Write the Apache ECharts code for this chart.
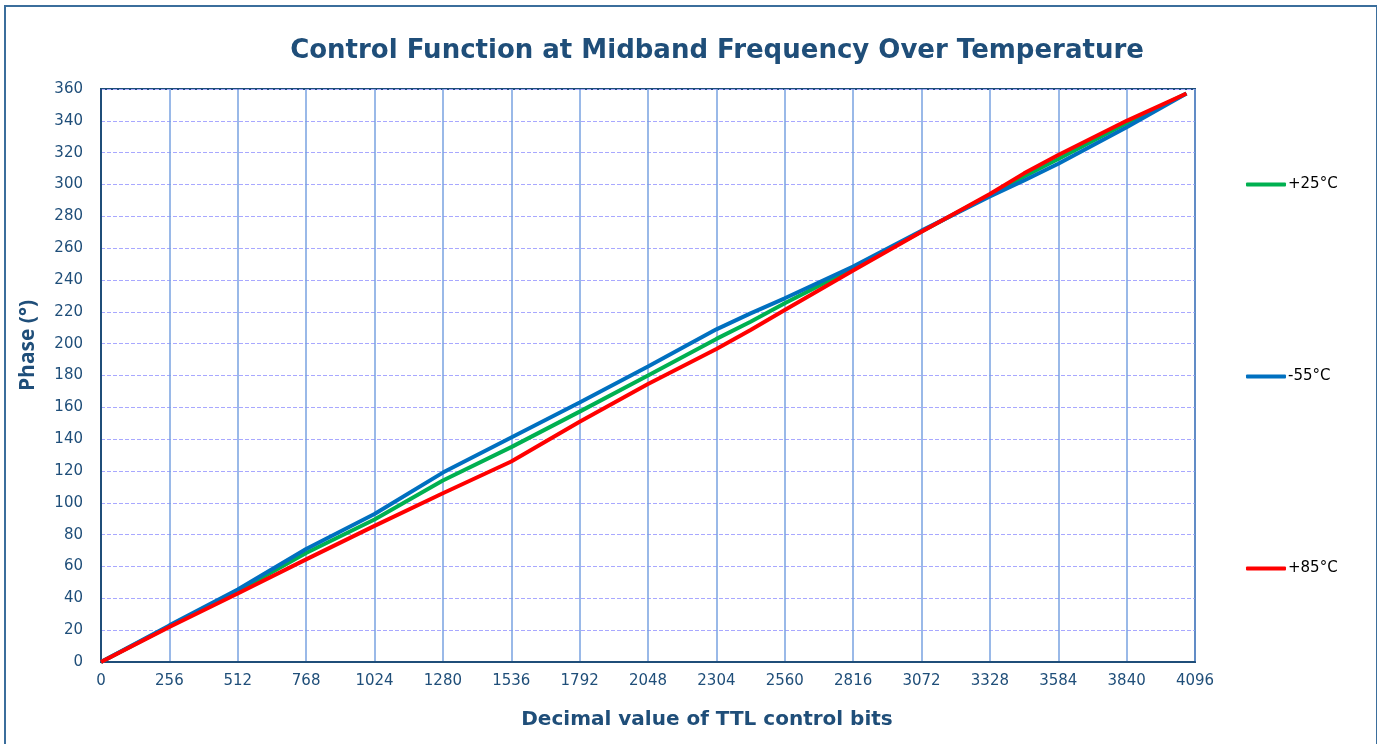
<!DOCTYPE html>
<html>
<head>
<meta charset="utf-8">
<script src="https://cdn.jsdelivr.net/npm/echarts@6/dist/echarts.min.js"></script>
<style>
  html, body { margin: 0; padding: 0; background: #fff; overflow: hidden; }
  #chart { width: 1377px; height: 744px; }
  .frame {
    position: absolute; left: 4px; top: 5px;
    width: 1370px; height: 800px;
    border: 2px solid #3b6e9c; pointer-events: none;
  }
</style>
</head>
<body>
<div id="chart"></div>
<div class="frame"></div>
<script>
  // decimal value of the TTL control bits
  var bits = [0, 256, 512, 768, 1024, 1280, 1536, 1792, 2048, 2304, 2432, 2560, 2816, 3072, 3328, 3456, 3584, 3840, 4064];
  // phase (deg)
  var phase25 = [0, 22.5, 44.5, 68.5, 89.5, 114, 135, 157.3, 180, 203, 213.8, 225.4, 247.3, 270.5, 293.4, 305, 316, 338.5, 357.2];
  var phaseM55 = [0, 23, 45.5, 71, 93, 119, 141, 163, 185.6, 209, 219, 228.5, 248.4, 271, 292.5, 302.5, 313, 336, 357.2];
  var phase85 = [0, 22, 43, 64.5, 85.5, 106, 126, 151, 174.7, 196.7, 208.6, 221.2, 246, 270.3, 294, 307, 318.5, 340, 357.2];
  var names = ['+25°C', '-55°C', '+85°C'];
  var colors = ['#00b050', '#0070c0', '#ff0000'];

  function pairs(ys) {
    var out = [];
    for (var i = 0; i < bits.length; i++) out.push([bits[i], ys[i]]);
    return out;
  }

  var dark = '#1f4e79';
  var chart = echarts.init(document.getElementById('chart'));
  var option = {
    animation: false,
    title: [{
      text: 'Control Function at Midband Frequency Over Temperature',
      left: 712, top: 33, textAlign: 'center',
      textStyle: { fontFamily: 'DejaVu Sans', fontWeight: 'bold', fontSize: 26, color: dark }
    }, {
      text: 'Decimal value of TTL control bits',
      left: 702, top: 705, textAlign: 'center',
      textStyle: { fontFamily: 'DejaVu Sans', fontWeight: 'bold', fontSize: 20, color: dark }
    }],
    legend: {
      orient: 'vertical',
      left: 1241, top: 172,
      itemGap: 177,
      itemWidth: 40, itemHeight: 4,
      icon: 'roundRect',
      data: names,
      textStyle: { fontFamily: 'DejaVu Sans', fontSize: 15, color: '#000', padding: [0, 0, 0, -3] }
    },
    grid: {
      left: 101, right: 182, top: 89, bottom: 82,
      show: true, borderColor: dark, borderWidth: 2
    },
    xAxis: {
      type: 'value', min: 0, max: 4096, interval: 256,
      axisLine: { lineStyle: { color: dark, width: 2 } },
      axisTick: { show: false },
      axisLabel: {
        fontFamily: 'DejaVu Sans', fontSize: 15, color: dark, margin: 12,
        formatter: function (v) { return String(v); }
      },
      splitLine: { show: true, lineStyle: { color: '#78a2e0', width: 1.5 } }
    },
    yAxis: {
      type: 'value', min: 0, max: 360, interval: 20,
      name: 'Phase (°)', nameLocation: 'middle', nameGap: 62, nameRotate: 90,
      nameTextStyle: { fontFamily: 'Liberation Sans Narrow, Open Sans', fontWeight: 'bold', fontSize: 21, color: dark, padding: [0, 0, 0, 60] },
      axisLine: { show: true, lineStyle: { color: dark, width: 2 } },
      axisTick: { show: false },
      axisLabel: { fontFamily: 'DejaVu Sans', fontSize: 15, color: dark, margin: 18 },
      splitLine: { show: true, lineStyle: { color: '#a8a8ff', width: 1, type: [4, 2] } }
    },
    series: [phase25, phaseM55, phase85].map(function (ys, i) {
      return {
        name: names[i], type: 'line', data: pairs(ys),
        symbol: 'none', color: colors[i],
        lineStyle: { width: 4, color: colors[i] }
      };
    })
  };
  chart.setOption(option);
</script>
</body>
</html>
